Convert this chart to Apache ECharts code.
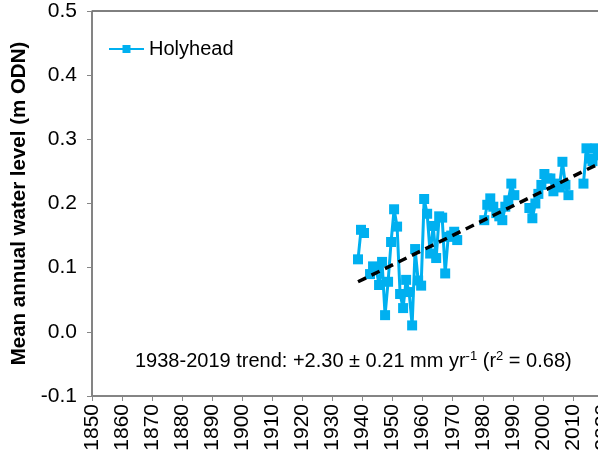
<!DOCTYPE html>
<html><head><meta charset="utf-8">
<script src="https://cdn.jsdelivr.net/npm/echarts@6/dist/echarts.min.js"></script>
<style>html,body{margin:0;padding:0;background:#fff}#c{width:598px;height:451px}</style>
</head><body><div id="c"></div>
<script>
const years = [];
for (let y = 1938; y <= 2019; y++) years.push(y);
// Holyhead mean annual water level (m ODN), null = no data
const levels = [
 0.113,0.159,0.154,null,0.090,0.102,0.100,0.073,0.109,0.026,
 0.078,0.140,0.191,0.164,0.059,0.037,0.081,0.062,0.010,0.129,
 0.080,0.072,0.207,0.184,0.122,0.165,0.115,0.180,0.178,0.091,
 0.148,0.150,0.156,0.143,null,null,null,null,null,null,
 null,null,0.174,0.198,0.208,0.195,0.185,0.180,0.174,0.195,
 0.205,0.231,0.213,null,null,null,null,0.193,0.177,0.200,
 0.215,0.229,0.246,0.239,0.239,0.219,0.231,0.225,0.265,0.229,
 0.213,null,null,null,null,0.231,0.286,0.270,0.266,0.286,
 0.275,0.280
];
const trendYears = [1938, 2019];
const trendValues = [0.078, 0.264];
const yTicks = [-0.1, 0.0, 0.1, 0.2, 0.3, 0.4, 0.5];
const xMin = 1850, xMax = 2020, xStep = 10;

const chart = echarts.init(document.getElementById('c'), null, {renderer: 'canvas'});
const FONT = 'Liberation Sans, Arial, sans-serif';
const obsData = years.map((y, i) => [y + 0.5, levels[i] === null ? '-' : levels[i]]);
const trendData = trendYears.map((y, i) => [y + 0.5, trendValues[i]]);

chart.setOption({
  animation: false,
  backgroundColor: '#fff',
  grid: {left: 92, top: 11, width: 511, height: 385, outerBoundsMode: 'none', containLabel: false,
         show: true, borderColor: '#000', borderWidth: 1, backgroundColor: 'transparent'},
  legend: {
    left: 103, top: 34, itemWidth: 35, itemHeight: 10, itemGap: 4,
    data: ['Holyhead'],
    textStyle: {fontFamily: FONT, fontSize: 20, color: '#000', padding: [0, 0, 0, 0]}
  },
  xAxis: {
    type: 'value', min: xMin, max: xMax, interval: xStep,
    axisLine: {show: true, onZero: false, lineStyle: {color: '#868686', width: 1.5}},
    axisTick: {show: true, inside: false, length: 5, lineStyle: {color: '#868686'}},
    splitLine: {show: false},
    axisLabel: {rotate: 90, margin: 8, fontFamily: FONT, fontSize: 21, color: '#000', formatter: v => String(v)}
  },
  yAxis: {
    type: 'value', min: yTicks[0], max: yTicks[yTicks.length - 1], interval: 0.1,
    name: 'Mean annual water level (m ODN)', nameLocation: 'middle', nameGap: 59,
    nameTextStyle: {fontFamily: FONT, fontSize: 20.5, fontWeight: 'bold', color: '#000'},
    axisLine: {show: true, onZero: false, lineStyle: {color: '#868686', width: 1.5}},
    axisTick: {show: true, inside: false, length: 5, lineStyle: {color: '#868686'}},
    splitLine: {show: false},
    axisLabel: {margin: 15, fontFamily: FONT, fontSize: 21, color: '#000', formatter: v => v.toFixed(1)}
  },
  series: [
    {
      name: 'Holyhead', type: 'line', data: obsData, connectNulls: false,
      symbol: 'rect', symbolSize: 10, showSymbol: true,
      lineStyle: {color: '#00B0F0', width: 3},
      itemStyle: {color: '#00B0F0'}, z: 3
    },
    {
      name: 'trend', type: 'line', data: trendData, symbol: 'none',
      lineStyle: {color: '#000', width: 3.5, type: [9, 6]}, z: 4, silent: true
    }
  ],
  graphic: [{
    type: 'text', left: 135, top: 350,
    style: {
      text: '1938-2019 trend: +2.30 ± 0.21 mm yr{s|-1} (r{s|2} = 0.68)',
      font: '20px ' + FONT, fill: '#000',
      rich: {s: {fontSize: 13, fontFamily: FONT, verticalAlign: 'top', padding: [0, 0, 10, 0]}}
    }
  }]
});
</script></body></html>
